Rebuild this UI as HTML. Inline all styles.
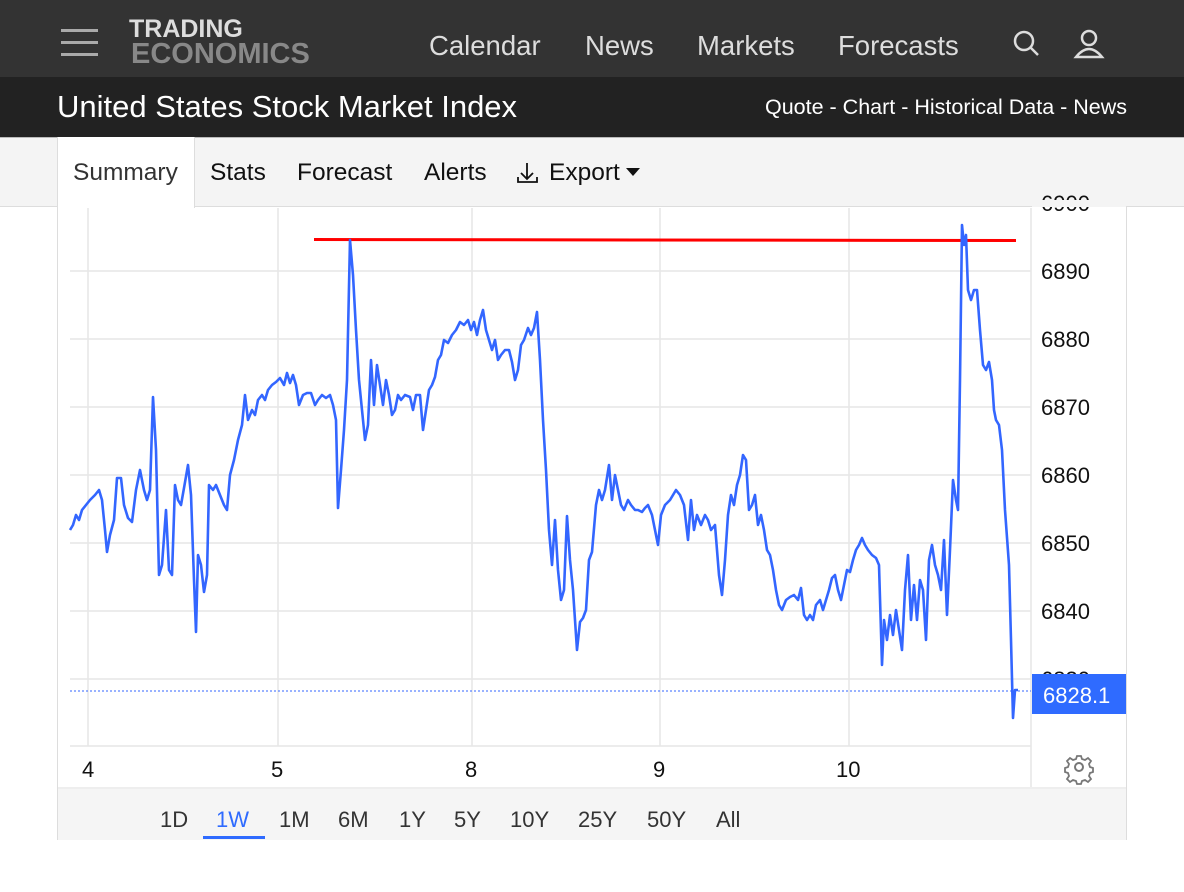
<!DOCTYPE html>
<html><head><meta charset="utf-8"><style>
*{margin:0;padding:0;box-sizing:border-box}
body{width:1184px;height:892px;background:#fff;font-family:"Liberation Sans",sans-serif;position:relative;overflow:hidden}
.a{position:absolute}
</style></head><body>
<div class="a" style="left:0;top:0;width:1184px;height:77px;background:#333"></div>
<div class="a" style="left:61px;top:29px;width:37px;height:3px;background:#aaa;box-shadow:0 12px 0 #aaa,0 24px 0 #aaa"></div>
<div class="a" style="left:129px;top:18px;font-weight:bold;font-size:25px;line-height:22px;color:#ddd">TRADING</div>
<div class="a" style="left:131px;top:40px;font-weight:bold;font-size:29px;line-height:28px;color:#888">ECONOMICS</div>
<div class="a" style="left:429px;top:30px;font-size:27.5px;color:#ddd">Calendar</div>
<div class="a" style="left:585px;top:30px;font-size:27.5px;color:#ddd">News</div>
<div class="a" style="left:697px;top:30px;font-size:27.5px;color:#ddd">Markets</div>
<div class="a" style="left:838px;top:30px;font-size:27.5px;color:#ddd">Forecasts</div>
<svg class="a" style="left:1010px;top:28px" width="100" height="32"><circle cx="14" cy="13" r="9" fill="none" stroke="#ddd" stroke-width="2.5"/><line x1="21" y1="20" x2="28" y2="27" stroke="#ddd" stroke-width="2.5"/><circle cx="79" cy="10" r="7" fill="none" stroke="#ddd" stroke-width="2.5"/><path d="M66 29 q13 -16 26 0 z" fill="none" stroke="#ddd" stroke-width="2.5"/></svg>
<div class="a" style="left:0;top:77px;width:1184px;height:60px;background:#222"></div>
<div class="a" style="left:57px;top:89px;font-size:31px;color:#fff">United States Stock Market Index</div>
<div class="a" style="left:765px;top:95px;font-size:21.5px;color:#fff">Quote - Chart - Historical Data - News</div>
<div class="a" style="left:0;top:137px;width:1184px;height:70px;background:#f4f4f4;border-top:1px solid #bbb;border-bottom:1px solid #ddd"></div>
<div class="a" style="left:57px;top:137px;width:138px;height:71px;background:#fff;border-left:1px solid #ddd;border-right:1px solid #ddd"></div>
<div class="a" style="left:73px;top:159px;font-size:24.5px;color:#333">Summary</div>
<div class="a" style="left:210px;top:159px;font-size:24.5px;color:#111">Stats</div>
<div class="a" style="left:297px;top:159px;font-size:24.5px;color:#111">Forecast</div>
<div class="a" style="left:424px;top:159px;font-size:24.5px;color:#111">Alerts</div>
<svg class="a" style="left:516px;top:161px" width="26" height="24"><path d="M11 2v16M5 12l6 6 6-6M2 16v5h19v-5" fill="none" stroke="#111" stroke-width="1.8"/></svg>
<div class="a" style="left:549px;top:159px;font-size:24.5px;color:#111">Export</div>
<div class="a" style="left:626px;top:168px;border-left:7px solid transparent;border-right:7px solid transparent;border-top:8px solid #111"></div>
<div class="a" style="left:57px;top:207px;width:1070px;height:633px;border-left:1px solid #ddd;border-right:1px solid #ddd;border-bottom:1px solid #ddd"></div>
<svg class="a" style="left:0;top:0" width="1184" height="892">
<g stroke="#e6e6e6" stroke-width="1.5">
<line x1="70" y1="271" x2="1031" y2="271"/><line x1="70" y1="339" x2="1031" y2="339"/><line x1="70" y1="407" x2="1031" y2="407"/><line x1="70" y1="475" x2="1031" y2="475"/><line x1="70" y1="543" x2="1031" y2="543"/><line x1="70" y1="611" x2="1031" y2="611"/><line x1="70" y1="679" x2="1031" y2="679"/>
<line x1="88" y1="208" x2="88" y2="746"/><line x1="278" y1="208" x2="278" y2="746"/><line x1="472" y1="208" x2="472" y2="746"/><line x1="660" y1="208" x2="660" y2="746"/><line x1="849" y1="208" x2="849" y2="746"/>
<line x1="1031" y1="208" x2="1031" y2="787"/><line x1="70" y1="746" x2="1031" y2="746"/>
</g>
<line x1="58" y1="788" x2="1127" y2="788" stroke="#ddd"/>
<rect x="58" y="789" width="1068" height="51" fill="#f5f5f5"/>
<g font-size="22" fill="#111" font-family="Liberation Sans">
<text x="1041" y="211">6900</text><text x="1041" y="279">6890</text><text x="1041" y="347">6880</text><text x="1041" y="415">6870</text><text x="1041" y="483">6860</text><text x="1041" y="551">6850</text><text x="1041" y="619">6840</text><text x="1041" y="687">6830</text>
<text x="82" y="777">4</text><text x="271" y="777">5</text><text x="465" y="777">8</text><text x="653" y="777">9</text><text x="836" y="777">10</text>
</g>
<rect x="1032" y="200" width="94" height="7" fill="#f4f4f4"/>
<line x1="70" y1="691" x2="1031" y2="691" stroke="#3366ff" stroke-width="1" stroke-dasharray="2,2"/>
<rect x="1032" y="674" width="94" height="40" fill="#2f6bff"/>
<text x="1043" y="703" font-size="22" fill="#fff" font-family="Liberation Sans">6828.1</text>
<line x1="314" y1="239.5" x2="1016" y2="240.5" stroke="#f00" stroke-width="3"/>
<polyline fill="none" stroke="#3366ff" stroke-width="2.6" stroke-linejoin="round" points="70,530 73,525 76,515 79,520 82,510 86,505 90,500 95,495 99,490 102,500 105,530 107,552 110,535 114,520 117,478 121,478 124,505 128,518 132,522 136,490 140,470 144,490 147,500 150,490 153,397 156,450 159,575 162,565 166,510 169,570 172,575 175,485 178,500 181,505 184,488 188,465 191,495 194,580 196,632 198,555 201,565 204,592 207,575 209,485 213,490 216,485 220,495 224,505 227,510 230,475 234,460 238,440 242,425 245,395 248,420 252,410 255,415 258,400 262,395 265,400 268,390 272,385 276,382 280,378 284,385 287,373 290,383 293,375 296,385 299,405 303,395 307,393 311,393 315,405 318,400 322,395 326,398 330,395 333,405 336,420 338,508 341,470 344,430 347,380 350,240 353,275 356,330 359,380 362,410 365,440 368,425 371,360 374,405 377,365 380,385 383,405 386,380 389,395 392,415 395,410 398,395 401,400 405,395 410,397 413,410 416,395 420,395 423,430 426,410 429,390 432,385 435,377 438,360 441,355 444,340 448,343 452,335 456,330 460,322 464,325 468,320 471,330 474,322 477,335 480,320 483,310 486,330 489,340 492,350 495,340 498,360 501,355 505,350 509,350 512,362 515,380 518,370 521,345 524,340 528,328 531,335 534,328 537,312 540,360 543,420 546,470 549,530 552,565 555,520 558,570 561,600 564,590 567,516 570,560 573,590 577,650 580,622 583,618 586,610 589,560 592,552 596,505 599,490 602,500 605,490 609,465 612,500 615,475 618,490 621,505 624,510 628,500 631,505 635,510 638,510 642,512 645,508 648,505 652,515 655,530 658,545 661,515 665,505 670,500 676,490 680,495 684,505 688,540 691,500 694,530 697,515 701,525 705,515 708,520 711,530 715,525 719,575 722,595 725,560 728,515 731,495 734,505 737,485 740,475 743,455 746,460 749,510 752,505 755,495 758,525 761,515 764,530 767,550 770,555 773,570 776,590 779,605 782,610 786,600 790,597 794,595 798,600 801,588 804,615 807,620 810,615 813,620 816,605 820,600 823,610 826,600 829,590 832,578 835,575 838,590 841,600 844,585 847,570 850,572 853,560 856,550 859,545 862,538 865,545 868,550 872,555 876,558 879,565 882,665 884,620 887,640 890,615 893,635 896,610 899,630 902,650 905,590 908,555 911,620 914,585 917,620 920,580 923,590 926,640 929,560 932,545 935,565 938,575 941,590 944,540 947,615 950,550 953,480 956,500 958,510 960,380 962,225 964,245 966,235 968,290 971,300 974,290 977,290 980,330 983,365 986,370 989,362 992,380 994,410 996,420 999,425 1002,450 1005,510 1009,565 1011,640 1013,718 1015,690 1018,690"/>
<g transform="translate(1079,767)" fill="none" stroke="#777" stroke-width="2"><circle r="4"/><path d="M-2,-11h4l1,3 3,1 3-2 3,3-2,3 1,3 3,1v4l-3,1-1,3 2,3-3,3-3-2-3,1-1,3h-4l-1-3-3-1-3,2-3-3 2-3-1-3-3-1v-4l3-1 1-3-2-3 3-3 3,2 3-1z" stroke-width="1.8"/></g>
<g font-size="22" fill="#333" font-family="Liberation Sans">
<text x="160" y="827">1D</text><text x="216" y="827" fill="#2f6bff">1W</text><text x="279" y="827">1M</text><text x="338" y="827">6M</text><text x="399" y="827">1Y</text><text x="454" y="827">5Y</text><text x="510" y="827">10Y</text><text x="578" y="827">25Y</text><text x="647" y="827">50Y</text><text x="716" y="827">All</text>
</g>
<rect x="203" y="836" width="62" height="3" fill="#2f6bff"/>
</svg>
</body></html>
